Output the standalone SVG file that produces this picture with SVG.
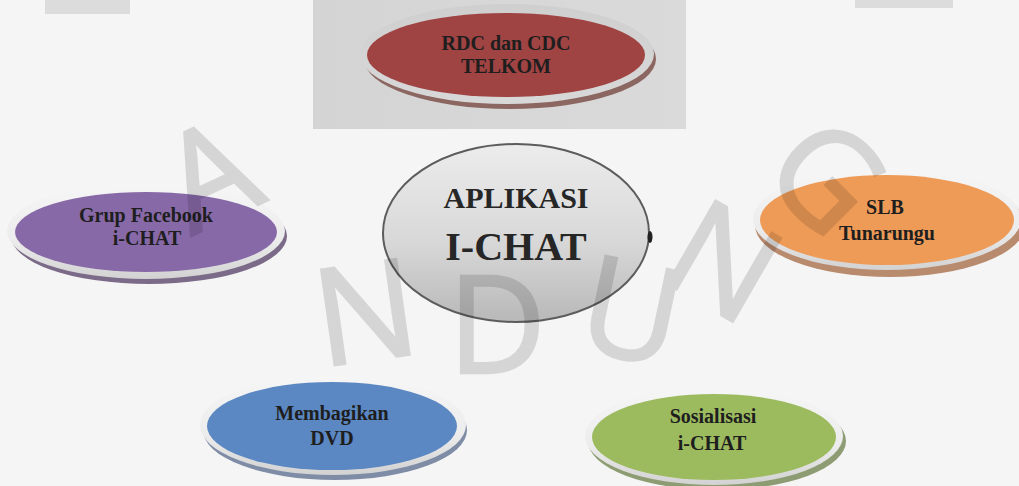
<svg xmlns="http://www.w3.org/2000/svg" width="1019" height="486" viewBox="0 0 1019 486">
<defs>
<style>
.t{font-family:"Liberation Serif","Times New Roman",serif;font-weight:bold;font-size:20px;fill:#1e1e1e;text-anchor:middle}
.big{font-size:30px;fill:#262626}
.huge{font-size:40px;fill:#262626}
.rim{fill:url(#rimG)}
.wm{font-family:"Open Sans","DejaVu Sans",sans-serif;font-weight:normal;font-size:135px;fill:#fff;stroke:#fff;stroke-width:2.5;text-anchor:middle}
</style>
<linearGradient id="rimG" x1="0" y1="0" x2="0" y2="1">
<stop offset="0" stop-color="#f6f6f6"/>
<stop offset="0.6" stop-color="#ececec"/>
<stop offset="1" stop-color="#d2d2d2"/>
</linearGradient>
<linearGradient id="rimR" x1="0" y1="0" x2="0" y2="1">
<stop offset="0" stop-color="#cfcfcf"/>
<stop offset="1" stop-color="#d8d8d8"/>
</linearGradient>
<linearGradient id="centerG" x1="0" y1="0" x2="0" y2="1">
<stop offset="0" stop-color="#ececec"/>
<stop offset="0.55" stop-color="#d8d8d8"/>
<stop offset="1" stop-color="#b8b8b8"/>
</linearGradient>
<linearGradient id="bgRect" x1="0" y1="0" x2="1" y2="0">
<stop offset="0" stop-color="#d4d4d4"/>
<stop offset="1" stop-color="#dadada"/>
</linearGradient>
<mask id="wmMask" maskUnits="userSpaceOnUse" x="0" y="0" width="1019" height="486">
<rect x="0" y="0" width="1019" height="486" fill="#000"/>
<text class="wm" transform="translate(230,218) rotate(-25)" font-size="150">A</text>
<text class="wm" transform="translate(372,360) rotate(-8)" font-size="145">N</text>
<text class="wm" transform="translate(497,373)">D</text>
<text class="wm" transform="translate(622,358) rotate(12)">U</text>
<text class="wm" transform="translate(700,303) rotate(30)">N</text>
<text class="wm" transform="translate(793,210) rotate(45)">G</text>
</mask>
</defs>

<rect x="0" y="0" width="1019" height="486" fill="#f5f5f5"/>
<rect x="313" y="0" width="373" height="129" fill="url(#bgRect)"/>
<rect x="45" y="0" width="85" height="14" fill="#dcdcdc"/>
<rect x="855" y="0" width="98" height="8" fill="#dcdcdc"/>

<g id="connectors"/>

<g id="node-rdc">
<ellipse cx="510" cy="59" rx="146" ry="50" fill="#8c6660"/>
<ellipse cx="507" cy="54" rx="147" ry="50" fill="url(#rimR)"/>
<ellipse cx="506" cy="55" rx="139" ry="42" fill="#a04343"/>
<text class="t" x="506" y="50">RDC dan CDC</text>
<text class="t" x="506" y="73">TELKOM</text>
</g>

<g id="node-grup">
<ellipse cx="149" cy="236" rx="138" ry="48" fill="#7b6a88"/>
<ellipse cx="146" cy="231" rx="139" ry="48" class="rim"/>
<ellipse cx="146" cy="232" rx="131" ry="40" fill="#8869a8"/>
<text class="t" x="146" y="222">Grup Facebook</text>
<text class="t" x="147" y="245">i-CHAT</text>
</g>

<g id="node-slb">
<ellipse cx="890" cy="225" rx="135" ry="52" fill="#b88a6e"/>
<ellipse cx="887" cy="219" rx="134" ry="51" class="rim"/>
<ellipse cx="887" cy="220" rx="127" ry="45" fill="#ee9b58"/>
<text class="t" x="885" y="214">SLB</text>
<text class="t" x="887" y="240">Tunarungu</text>
</g>

<g id="node-dvd">
<ellipse cx="335" cy="430" rx="132" ry="50" fill="#7f8ca6"/>
<ellipse cx="333" cy="425" rx="133" ry="50" class="rim"/>
<ellipse cx="332" cy="426" rx="125" ry="44" fill="#5b88c2"/>
<text class="t" x="332" y="420">Membagikan</text>
<text class="t" x="332" y="445">DVD</text>
</g>

<g id="node-sosialisasi">
<ellipse cx="717" cy="441" rx="129" ry="49" fill="#8d9c72"/>
<ellipse cx="714" cy="436" rx="129" ry="49" class="rim"/>
<ellipse cx="714" cy="437" rx="122" ry="43" fill="#9cbb5f"/>
<text class="t" x="713" y="423">Sosialisasi</text>
<text class="t" x="712" y="450">i-CHAT</text>
</g>

<g id="node-center">
<ellipse cx="516" cy="233" rx="133" ry="89" fill="url(#centerG)" stroke="#5c5c5c" stroke-width="2"/>
<ellipse cx="650" cy="237" rx="2.5" ry="6" fill="#222"/>
<text class="t big" x="516" y="208">APLIKASI</text>
<text class="t huge" x="516" y="260">I-CHAT</text>
</g>

<rect id="watermark" x="0" y="0" width="1019" height="486" fill="#000" fill-opacity="0.13" mask="url(#wmMask)"/>
</svg>
